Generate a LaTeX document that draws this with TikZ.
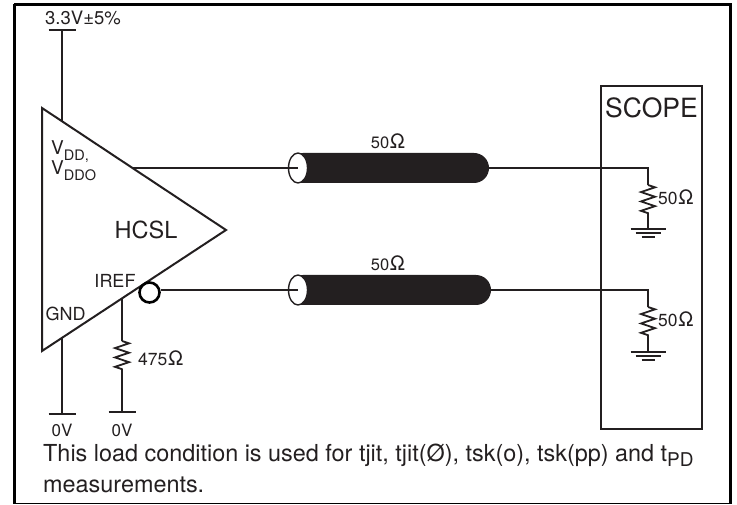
\documentclass[tikz,border=0pt]{standalone}
\usepackage{fontspec}
\setmainfont{TeX Gyre Heros}
\usepackage{tikz}
\usetikzlibrary{decorations.pathmorphing, shapes.geometric, shapes.misc}
\definecolor{ink}{HTML}{231F20}
\newcommand*{\Size}[2]{{\fontsize{#1}{#1}\selectfont #2}}
\newcommand*{\Sub}[2][5.5]{\raisebox{-#1pt}{\Size{14.5}{#2}}}
\newcommand*{\Ohm}{\kern0.8pt\Size{20}{Ω}}
\tikzset{
  wire/.style={draw=ink, line width=1.8pt},
  rail/.style={draw=ink, line width=2pt},
  resistor/.style={wire, decorate, decoration={zigzag, segment length=9.4pt, amplitude=7pt}},
  lbl/.style={text=ink, inner sep=0pt}
}
\begin{document}
\begin{tikzpicture}[x=1pt, y=-1pt]
  \useasboundingbox (0,0) rectangle (737,505);
  \draw[black, line width=3pt] (14,4.5) -- (730,4.5) -- (730,503.5);
  \draw[black, line width=3pt] (14,4.5) -- (14,503.5);
  \draw[black, line width=1.5pt] (14,503.5) -- (730,503.5);

  % amplifier
  \coordinate (triA) at (42,108);
  \coordinate (triB) at (226,230);
  \coordinate (triC) at (42,351);
  \draw[rail, line join=miter] (triA) -- (triB) -- (triC) -- cycle;
  \node[lbl] (hcsl) at (146,230) {\Size{23.5}{HCSL}};
  \node[lbl, anchor=base west] (vdd) at (51,155) {\Size{19}{V\Sub{DD,}}};
  \node[lbl, anchor=base west] (vddo) at (51,175) {\Size{19}{V\Sub{DDO}}};
  \node[lbl] (iref) at (115,281) {\Size{18}{IREF}};
  \node[lbl] (gnd) at (65.5,314) {\Size{18}{GND}};

  % supply and ground rails
  \coordinate (vddpin) at (62,121);
  \coordinate (gndpin) at (62,338);
  \coordinate (irefpin) at (122,298);
  \coordinate (vddbar) at (62,30);
  \coordinate (gndbar) at (62,414);
  \coordinate (irefbar) at (122,412);
  \coordinate (rtop) at (122,341);
  \coordinate (rbot) at (122,373);
  \draw[rail] (vddpin) -- (vddbar);
  \draw[rail] (gndpin) -- (gndbar);
  \draw[rail] (irefpin) -- (rtop);
  \draw[resistor] (rtop) -- (rbot);
  \draw[rail] (rbot) -- (irefbar);
  \foreach \c in {vddbar,gndbar,irefbar}{
    \draw[rail] ([xshift=-13.5pt]\c) -- ([xshift=13.5pt]\c);
  }
  \node[lbl] (vddlbl) at (83,18) {\Size{18.5}{3.3V±5\%}};
  \node[lbl] (zeroA) at (62,430) {\Size{17}{0V}};
  \node[lbl] (zeroB) at (122,430) {\Size{17}{0V}};
  \node[lbl, anchor=west] (r475) at (138,358) {\Size{17.5}{475\Ohm}};

  % scope
  \node[draw=ink, line width=2pt, minimum width=101pt, minimum height=343pt, inner sep=0pt] (scope) at (651.5,257.5) {};
  \node[lbl] (scopelbl) at (651.5,108) {\Size{26.5}{SCOPE}};

  % the two cables
  \foreach \n/\y/\xe/\ly/\gy in {A/168/489/141/229,B/290/491/263/352}{
    \node[rounded rectangle, fill=ink, minimum height=30pt, minimum width=\xe pt-288pt, inner sep=0pt] (cable\n) at ({(288+\xe)/2},\y) {};
    \node[ellipse, draw=ink, fill=white, line width=1.4pt, minimum width=19pt, minimum height=30pt, inner sep=0pt] (end\n) at (298,\y) {};
    \node[lbl] (z\n) at (388,\ly) {\Size{16.5}{50\Ohm}};
    \coordinate (drop\n) at (648,\y);
    \coordinate (rt\n) at (648,\y+17);
    \coordinate (rb\n) at (648,\y+46);
    \coordinate (gb\n) at (648,\gy);
    \draw[wire] (cable\n.east) -- (drop\n) -- (rt\n);
    \draw[resistor] (rt\n) -- (rb\n);
    \draw[rail] (rb\n) -- (gb\n);
    \draw[rail] ([xshift=-17.5pt]gb\n) -- ([xshift=17.5pt]gb\n);
    \draw[rail] ([xshift=-12.5pt,yshift=-4pt]gb\n) -- ([xshift=12.5pt,yshift=-4pt]gb\n);
    \draw[rail] ([xshift=-6.5pt,yshift=-8pt]gb\n) -- ([xshift=6.5pt,yshift=-8pt]gb\n);
    \node[lbl, anchor=west] (rl\n) at (658,\y+29) {\Size{17.5}{50\Ohm}};
  }

  % driver outputs
  \coordinate (outA) at (133,168);
  \node[circle, draw=black, line width=2.6pt, minimum size=20pt, inner sep=0pt] (bubble) at (149.5,292.5) {};
  \draw[wire] (outA) -- (endA.center);
  \draw[wire] (bubble.east |- endB) -- (endB.center);

  \node[lbl, anchor=north west, align=left, font=\fontsize{23.4}{30.5}\selectfont] (note) at (43,444)
    {This load condition is used for tjit, tjit(Ø), tsk(o), tsk(pp) and t\Sub[5]{\Size{19}{PD}}\\measurements.};
\end{tikzpicture}
\end{document}
